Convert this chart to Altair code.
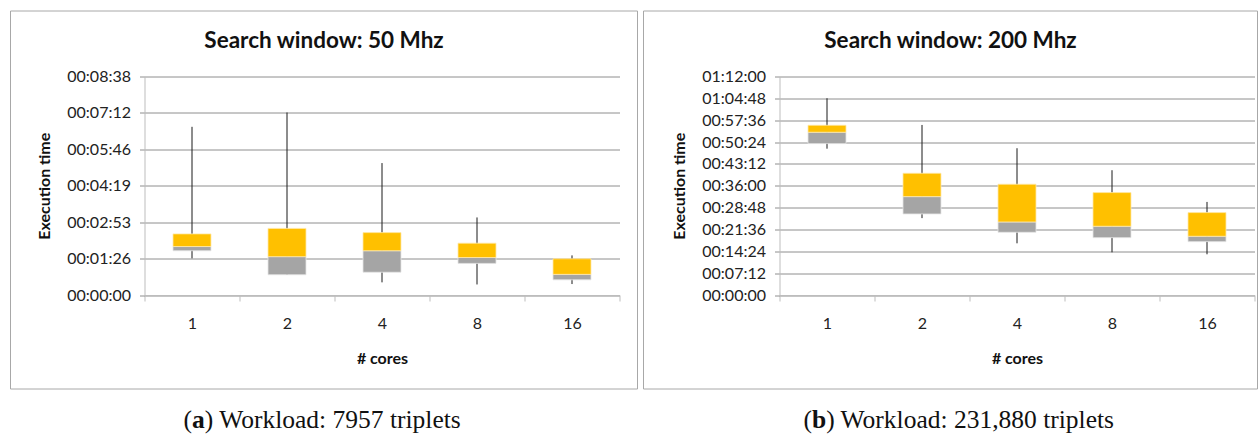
import altair as alt
import pandas as pd

cores = ["1", "2", "4", "8", "16"]

# Panel (a) values in seconds
a_min = [87, 48, 30, 25, 26]
a_q1 = [105, 48, 54, 75, 36]
a_med = [115, 91, 105, 89, 49]
a_q3 = [145, 158, 148, 123, 86]
a_max = [399, 433, 313, 184, 94]
a_ticks = [0, 86.4, 172.8, 259.2, 345.6, 432, 518.4]
a_labels = ["00:00:00", "00:01:26", "00:02:53", "00:04:19", "00:05:46", "00:07:12", "00:08:38"]

# Panel (b) values in seconds
b_min = [2893, 1520, 1022, 844, 805]
b_q1 = [2993, 1602, 1240, 1134, 1055]
b_med = [3218, 1945, 1444, 1359, 1161]
b_q3 = [3356, 2407, 2190, 2025, 1629]
b_max = [3890, 3362, 2902, 2467, 1840]
b_ticks = [0, 432, 864, 1296, 1728, 2160, 2592, 3024, 3456, 3888, 4320]
b_labels = ["00:00:00", "00:07:12", "00:14:24", "00:21:36", "00:28:48", "00:36:00",
            "00:43:12", "00:50:24", "00:57:36", "01:04:48", "01:12:00"]

titles = ["Search window: 50 Mhz", "Search window: 200 Mhz"]
cap_keys = ["a", "b"]
cap_texts = [") Workload: 7957 triplets", ") Workload: 231,880 triplets"]

W, H = 475, 218.5
FONT = "Lato"
GRID = "#8e8e8e"
AXIS = "#bdbdbd"


def panel(mins, q1s, meds, q3s, maxs, ticks, labels, title, key, cap, fx1, fx2, capx):
    df = pd.DataFrame({"cores": cores, "lo": mins, "q1": q1s, "med": meds, "q3": q3s, "hi": maxs})
    one = pd.DataFrame({"k": [0]})
    label_expr = ("[" + ",".join(f"'{l}'" for l in labels) + "][indexof(["
                  + ",".join(str(t) for t in ticks) + "], datum.value)]")
    xaxis = alt.Axis(title="# cores", labelAngle=0, tickBand="extent", grid=False,
                     domainColor=AXIS, tickColor=AXIS, tickSize=6, labelPadding=14,
                     labelFont=FONT, labelFontSize=16, labelColor="#222",
                     titleFont=FONT, titleFontSize=16, titleFontWeight="bold", titleColor="#111",
                     titleY=63, titleBaseline="middle")
    yaxis = alt.Axis(title="Execution time", values=ticks, labelExpr=label_expr,
                     grid=True, gridColor=GRID, gridWidth=1, domainColor=AXIS,
                     tickColor=GRID, tickSize=5, labelPadding=9,
                     labelFont=FONT, labelFontSize=16, labelColor="#222",
                     titleFont=FONT, titleFontSize=16, titleFontWeight="bold", titleColor="#111",
                     titleX=-100, titleY=H / 2, titleAngle=-90, titleBaseline="middle",
                     titleAlign="center")
    xscale = alt.Scale(paddingInner=0, paddingOuter=0)
    yscale = alt.Scale(domain=[0, ticks[-1]], nice=False, zero=True)
    xenc = alt.X("cores:N", sort=cores, scale=xscale, axis=xaxis)
    base = alt.Chart(df)
    rule = base.mark_rule(color="#1a1a1a", strokeWidth=1).encode(
        x=xenc,
        y=alt.Y("lo:Q", scale=yscale, axis=yaxis),
        y2="hi:Q",
    )
    gray = base.mark_bar(color="#A5A5A5", width=alt.RelativeBandSize(0.4),
                         stroke="#e6e6e6", strokeWidth=0.8).encode(
        x=xenc,
        y=alt.Y("q1:Q", scale=yscale, axis=yaxis),
        y2="med:Q",
    )
    yellow = base.mark_bar(color="#FFC000", width=alt.RelativeBandSize(0.4),
                           stroke="#ffe9a8", strokeWidth=0.8).encode(
        x=xenc,
        y=alt.Y("med:Q", scale=yscale, axis=yaxis),
        y2="q3:Q",
    )
    frame = alt.Chart(one).mark_rect(filled=False, stroke="#a8a8a8", strokeWidth=1).encode(
        x=alt.value(fx1), x2=alt.value(fx2), y=alt.value(-65.5), y2=alt.value(312.5))
    ttl = alt.Chart(one).mark_text(font=FONT, fontWeight="bold", fontSize=22.5, color="#111",
                                   align="center", baseline="middle").encode(
        x=alt.value((fx1 + fx2) / 2), y=alt.value(-35.5), text=alt.value(title))
    cfs = 25.5
    cy = 343
    c1 = alt.Chart(one).mark_text(font="Liberation Serif", fontSize=cfs, color="#111",
                                  align="left", baseline="middle").encode(
        x=alt.value(capx), y=alt.value(cy), text=alt.value("("))
    c2 = alt.Chart(one).mark_text(font="Liberation Serif", fontSize=cfs, fontWeight="bold",
                                  color="#111", align="left", baseline="middle").encode(
        x=alt.value(capx + 0.333 * cfs), y=alt.value(cy), text=alt.value(key))
    kw = 0.5 if key == "a" else 0.556
    c3 = alt.Chart(one).mark_text(font="Liberation Serif", fontSize=cfs, color="#111",
                                  align="left", baseline="middle").encode(
        x=alt.value(capx + (0.333 + kw) * cfs), y=alt.value(cy), text=alt.value(cap))
    return alt.layer(frame, rule, gray, yellow, ttl, c1, c2, c3).properties(width=W, height=H)


left = panel(a_min, a_q1, a_med, a_q3, a_max, a_ticks, a_labels, titles[0], cap_keys[0],
             cap_texts[0], -134, 493, 39)
right = panel(b_min, b_q1, b_med, b_q3, b_max, b_ticks, b_labels, titles[1], cap_keys[1],
              cap_texts[1], -136, 478, 24)

chart = alt.hconcat(left, right, spacing=160, bounds="flush").resolve_scale(
    x="independent", y="independent"
).properties(
    padding={"left": 9.5, "top": 9.5, "right": 0, "bottom": 0}
).configure_view(stroke="transparent")

chart.save("out.html", embed_options={"renderer": "svg", "actions": False})
